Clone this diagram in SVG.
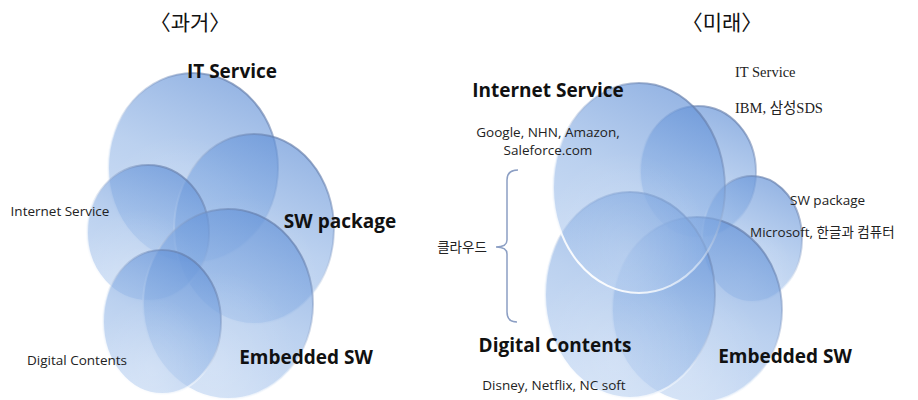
<svg xmlns="http://www.w3.org/2000/svg" width="918" height="400" viewBox="0 0 918 400">
  <defs>
    <!-- glassy body: deeper blue at the top, fading to pale blue toward the lower-left -->
    <linearGradient id="body" x1="0.3" y1="1" x2="0.68" y2="0">
      <stop offset="0" stop-color="#AFCAEF" stop-opacity="0.58"/>
      <stop offset="0.5" stop-color="#86ADE3" stop-opacity="0.56"/>
      <stop offset="1" stop-color="#5D8DD5" stop-opacity="0.66"/>
    </linearGradient>
    <!-- rim: slate line at the top-right, white reflection at the bottom-left -->
    <linearGradient id="rim" x1="0.2" y1="0.95" x2="0.8" y2="0.05">
      <stop offset="0" stop-color="#FFFFFF" stop-opacity="1"/>
      <stop offset="0.4" stop-color="#EEF4FB" stop-opacity="0.55"/>
      <stop offset="0.7" stop-color="#7F98C2" stop-opacity="0.4"/>
      <stop offset="1" stop-color="#5F78A6" stop-opacity="0.7"/>
    </linearGradient>
    <radialGradient id="glow" cx="0.42" cy="0.82" r="0.5">
      <stop offset="0" stop-color="#FFFFFF" stop-opacity="0.18"/>
      <stop offset="1" stop-color="#FFFFFF" stop-opacity="0"/>
    </radialGradient>
  </defs>
  <style>
    .bubble { fill: url(#body); stroke: url(#rim); stroke-width: 2; }
    .shine { fill: url(#glow); }
    .title { font-family: "Liberation Serif", "Noto Sans CJK KR", serif; font-size: 21px; fill: #111; text-anchor: middle; }
    .big { font-family: "Open Sans", "Noto Sans CJK KR", sans-serif; font-weight: bold; font-size: 19px; fill: #111; }
    .small { font-family: "Open Sans", "Noto Sans CJK KR", sans-serif; font-size: 13.5px; fill: #222; }
    .serif { font-family: "Liberation Serif", "Noto Sans CJK KR", serif; font-size: 14.5px; fill: #222; }
    .brace { fill: none; stroke: #8C9FC4; stroke-width: 1.5; }
  </style>

  <rect width="918" height="400" fill="#FFFFFF"/>

  <!-- headings -->
  <text class="title" x="190" y="30">〈과거〉</text>
  <text class="title" x="722" y="30">〈미래〉</text>

  <!-- past: five overlapping domains -->
  <g id="past-it-service">
    <ellipse class="bubble" cx="193" cy="168" rx="85" ry="95"/>
    <ellipse class="shine" cx="193" cy="168" rx="85" ry="95"/>
    <text class="big" x="232" y="78" text-anchor="middle">IT Service</text>
  </g>
  <g id="past-sw-package">
    <ellipse class="bubble" cx="254" cy="229" rx="80" ry="95"/>
    <ellipse class="shine" cx="254" cy="229" rx="80" ry="95"/>
    <text class="big" x="340" y="228" text-anchor="middle">SW package</text>
  </g>
  <g id="past-internet-service">
    <ellipse class="bubble" cx="148" cy="233" rx="61" ry="68"/>
    <ellipse class="shine" cx="148" cy="233" rx="61" ry="68"/>
    <text class="small" x="60" y="216" text-anchor="middle">Internet Service</text>
  </g>
  <g id="past-embedded-sw">
    <ellipse class="bubble" cx="228" cy="304" rx="85" ry="95"/>
    <ellipse class="shine" cx="228" cy="304" rx="85" ry="95"/>
    <text class="big" x="306" y="364" text-anchor="middle">Embedded SW</text>
  </g>
  <g id="past-digital-contents">
    <ellipse class="bubble" cx="162" cy="322" rx="59" ry="72"/>
    <ellipse class="shine" cx="162" cy="322" rx="59" ry="72"/>
    <text class="small" x="77" y="365" text-anchor="middle">Digital Contents</text>
  </g>

  <!-- future: five overlapping domains -->
  <g id="future-it-service">
    <ellipse class="bubble" cx="698" cy="172" rx="58" ry="66"/>
    <ellipse class="shine" cx="698" cy="172" rx="58" ry="66"/>
    <text class="serif" x="735" y="77">IT Service</text>
    <text class="serif" x="735" y="113">IBM, 삼성SDS</text>
  </g>
  <g id="future-sw-package">
    <ellipse class="bubble" cx="752" cy="239" rx="50" ry="63"/>
    <ellipse class="shine" cx="752" cy="239" rx="50" ry="63"/>
    <text class="small" x="790" y="205">SW package</text>
    <text class="small" x="750" y="237">Microsoft, 한글과 컴퓨터</text>
  </g>
  <g id="future-embedded-sw">
    <ellipse class="bubble" cx="697" cy="310" rx="85" ry="93"/>
    <ellipse class="shine" cx="697" cy="310" rx="85" ry="93"/>
    <text class="big" x="785" y="363" text-anchor="middle">Embedded SW</text>
  </g>
  <g id="future-digital-contents">
    <ellipse class="bubble" cx="630" cy="295" rx="85" ry="103"/>
    <ellipse class="shine" cx="630" cy="295" rx="85" ry="103"/>
    <text class="big" x="555" y="352" text-anchor="middle">Digital Contents</text>
    <text class="small" x="554" y="390" text-anchor="middle">Disney, Netflix, NC soft</text>
  </g>
  <g id="future-internet-service">
    <ellipse class="bubble" cx="639" cy="188" rx="86" ry="105"/>
    <ellipse class="shine" cx="639" cy="188" rx="86" ry="105"/>
    <text class="big" x="548" y="97" text-anchor="middle">Internet Service</text>
    <text class="small" x="548" y="137" text-anchor="middle">Google, NHN, Amazon,</text>
    <text class="small" x="548" y="155" text-anchor="middle">Saleforce.com</text>
  </g>

  <!-- cloud grouping brace -->
  <g id="connectors">
    <path class="brace" d="M518,170 Q507,170 507,180 L507,240 Q507,247 496,247 Q507,247 507,254 L507,312 Q507,322 517,322"/>
  </g>
  <g id="cloud-label">
    <text class="small" x="462" y="252" text-anchor="middle">클라우드</text>
  </g>
</svg>
